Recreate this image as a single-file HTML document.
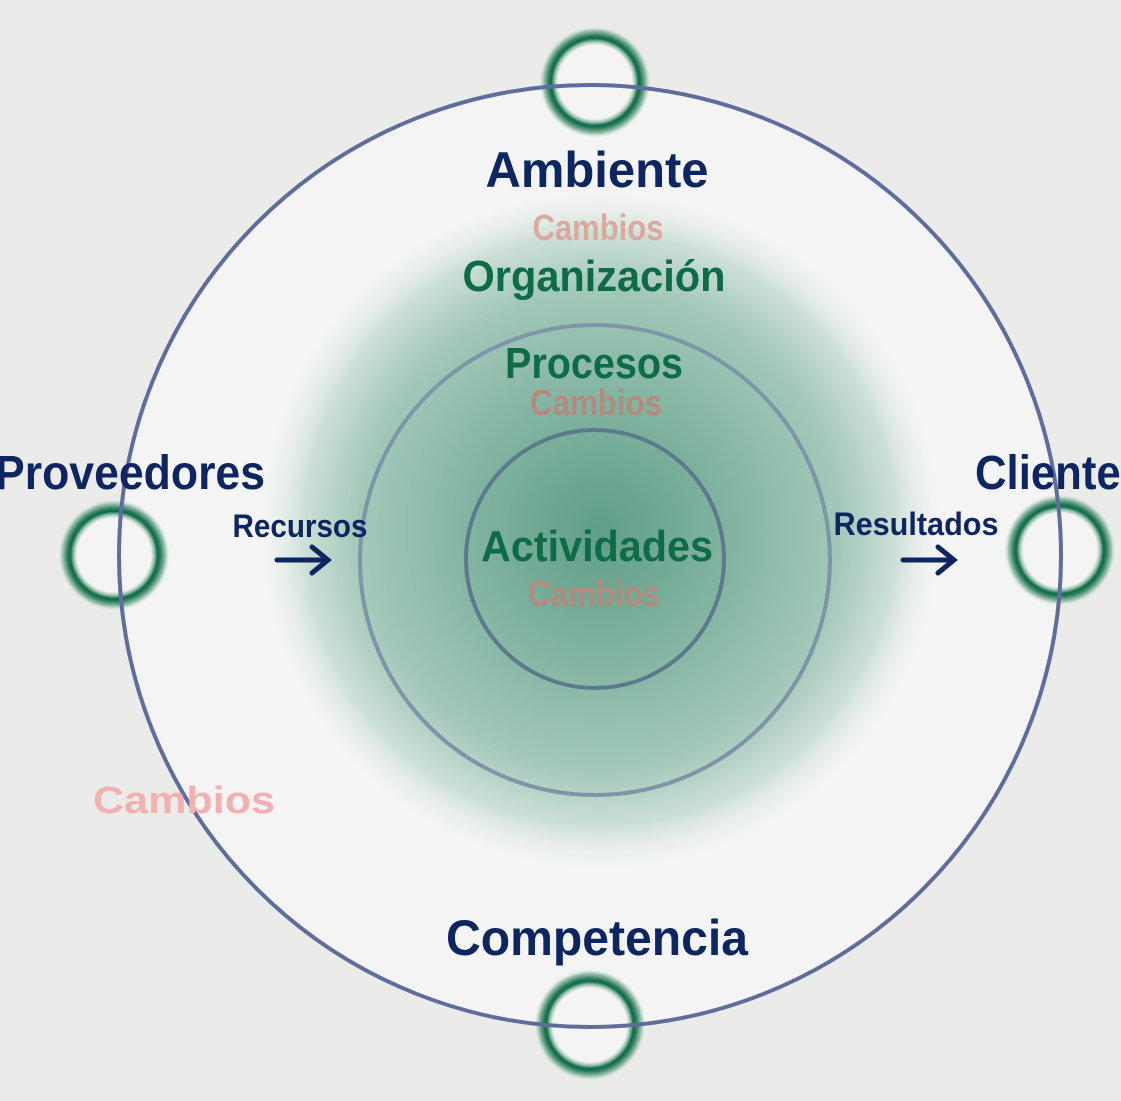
<!DOCTYPE html>
<html><head><meta charset="utf-8"><style>
html,body{margin:0;padding:0;background:#ebecea;}
svg{display:block}
text{font-family:"Liberation Sans Narrow","Liberation Sans",sans-serif;font-weight:bold;text-anchor:middle}
</style></head><body>
<svg width="1121" height="1101" viewBox="0 0 1121 1101" xmlns="http://www.w3.org/2000/svg">
<defs>
<radialGradient id="g" cx="600" cy="530" r="345" gradientUnits="userSpaceOnUse">
<stop offset="0" stop-color="#5f9e87"/>
<stop offset="0.35" stop-color="#7fb29f"/>
<stop offset="0.7" stop-color="#a3c8b9"/>
<stop offset="0.86" stop-color="#cde0d7"/>
<stop offset="1" stop-color="#f3f3f3" stop-opacity="0"/>
</radialGradient>
<radialGradient id="ring" cx="0.5" cy="0.5" r="0.5">
<stop offset="0.66" stop-color="#f4f4f4"/>
<stop offset="0.72" stop-color="#9cc2b1"/>
<stop offset="0.78" stop-color="#0a6a44"/>
<stop offset="0.83" stop-color="#2e7d5c"/>
<stop offset="0.92" stop-color="#9fc3b4"/>
<stop offset="1" stop-color="#e6ece9" stop-opacity="0"/>
</radialGradient>
</defs>
<rect width="1121" height="1101" fill="#ebecea"/>
<circle cx="590" cy="556" r="471" fill="#f4f4f4"/>
<circle cx="600" cy="540" r="345" fill="url(#g)"/>
<circle cx="595" cy="560" r="235" fill="none" stroke="#7d95a8" stroke-width="4"/>
<circle cx="595" cy="559" r="129" fill="none" stroke="#5d7a8c" stroke-width="4"/>
<circle cx="595" cy="82" r="56" fill="url(#ring)"/>
<circle cx="114" cy="555" r="56" fill="url(#ring)"/>
<circle cx="1060" cy="550" r="56" fill="url(#ring)"/>
<circle cx="590" cy="1025" r="56" fill="url(#ring)"/>
<circle cx="590" cy="556" r="471" fill="none" stroke="#5e6d9c" stroke-width="4"/>
<text x="597" y="187" font-size="50" fill="#0d2560" textLength="223" lengthAdjust="spacingAndGlyphs">Ambiente</text>
<text x="598" y="240" font-size="36" fill="#dba9a0" font-weight="normal" textLength="131" lengthAdjust="spacingAndGlyphs">Cambios</text>
<text x="594" y="291" font-size="44" fill="#0e6b48" textLength="263" lengthAdjust="spacingAndGlyphs">Organización</text>
<text x="594" y="378" font-size="44" fill="#0e6b48" textLength="178" lengthAdjust="spacingAndGlyphs">Procesos</text>
<text x="596" y="415" font-size="36" fill="#b38a7e" font-weight="normal" textLength="132" lengthAdjust="spacingAndGlyphs">Cambios</text>
<text x="597" y="561" font-size="44" fill="#0e6b48" textLength="232" lengthAdjust="spacingAndGlyphs">Actividades</text>
<text x="594" y="606" font-size="36" fill="#b38a7e" font-weight="normal" textLength="132" lengthAdjust="spacingAndGlyphs">Cambios</text>
<text x="130" y="489" font-size="48" fill="#0d2560" textLength="270" lengthAdjust="spacingAndGlyphs">Proveedores</text>
<text x="1060" y="489" font-size="48" fill="#0d2560" textLength="170" lengthAdjust="spacingAndGlyphs">Clientes</text>
<text x="300" y="537" font-size="32" fill="#0d2560" textLength="135" lengthAdjust="spacingAndGlyphs">Recursos</text>
<text x="916" y="535" font-size="32" fill="#0d2560" textLength="165" lengthAdjust="spacingAndGlyphs">Resultados</text>
<g stroke="#0d2560" stroke-width="5" fill="none" stroke-linecap="round">
<path d="M277 560H327M312 547L328 560L312 573"/>
<path d="M903 560H953M938 547L954 560L938 573"/>
</g>
<text x="184" y="813" font-size="38" fill="#f2b0b0" textLength="182" lengthAdjust="spacingAndGlyphs">Cambios</text>
<text x="597" y="955" font-size="50" fill="#0d2560" textLength="302" lengthAdjust="spacingAndGlyphs">Competencia</text>
</svg>
</body></html>
